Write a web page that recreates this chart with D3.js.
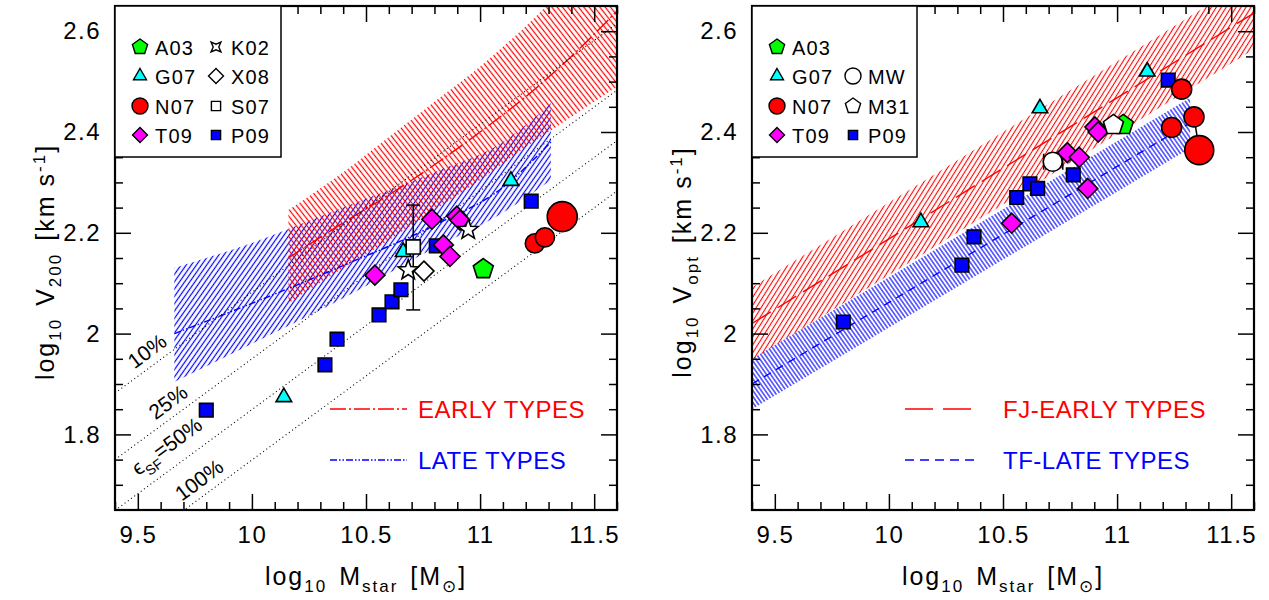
<!DOCTYPE html>
<html>
<head>
<meta charset="utf-8">
<script src="https://cdn.jsdelivr.net/npm/d3@7"></script>
<style>
  body { margin: 0; background: #fff; }
  text { font-family: "Liberation Sans", Arial, sans-serif; fill: #000; }
</style>
</head>
<body>
<div id="chart"></div>
<script>
var W = 1269, H = 600;

// axes
var xDomain = [9.4, 11.6];
var yDomain = [1.65, 2.65];
var xTicks = [9.5, 10, 10.5, 11, 11.5];
var xTickLabels = ["9.5", "10", "10.5", "11", "11.5"];
var yTicks = [1.8, 2, 2.2, 2.4, 2.6];
var yTickLabels = ["1.8", "2", "2.2", "2.4", "2.6"];

// left panel: log V200 vs log Mstar
var v200A03 = [[11.014, 2.128]];
var v200G07 = [[10.14, 1.874], [10.663, 2.162], [11.135, 2.303]];
var v200N07 = [[11.24, 2.179], [11.284, 2.191]];
var v200N07big = [[11.36, 2.232]];
var v200T09 = [[10.539, 2.116], [10.789, 2.227], [10.839, 2.176], [10.868, 2.153], [10.898, 2.233], [10.912, 2.225]];
var v200K02 = [[10.685, 2.126], [10.948, 2.206]];
var v200X08 = [[10.754, 2.124]];
var v200S07 = [[10.707, 2.172]];
var v200S07err = [[10.707, 2.047, 2.255]];
var v200P09 = [[9.80, 1.848], [10.32, 1.938], [10.373, 1.989], [10.557, 2.037], [10.614, 2.063],
               [10.653, 2.087], [10.808, 2.174], [11.224, 2.263]];

// left panel bands: x, lower, middle, upper
var earlyX   = [10.16, 10.4, 10.6, 10.8, 11.0, 11.2, 11.4, 11.6];
var earlyLo  = [2.06, 2.13, 2.185, 2.245, 2.305, 2.37, 2.43, 2.49];
var earlyMid = [2.15, 2.22, 2.275, 2.335, 2.40, 2.47, 2.55, 2.64];
var earlyHi  = [2.245, 2.32, 2.39, 2.46, 2.53, 2.61, 2.70, 2.79];
var lateX    = [9.66, 10.0, 10.4, 10.8, 11.1, 11.31];
var lateLo   = [1.904, 1.98, 2.07, 2.17, 2.24, 2.305];
var lateMid  = [2.00, 2.06, 2.135, 2.215, 2.29, 2.38];
var lateHi   = [2.13, 2.18, 2.25, 2.32, 2.38, 2.457];

// star formation efficiency lines (dotted), end points at x = 9.4 and 11.6
var effX = [9.4, 11.6];
var eff10 = [1.882, 2.615];
var eff25 = [1.750, 2.483];
var eff50 = [1.649, 2.383];
var eff100 = [1.549, 2.283];

// right panel: log Vopt vs log Mstar
var voptA03 = [[11.027, 2.414]];
var voptG07 = [[10.14, 2.221], [10.662, 2.447], [11.132, 2.520]];
var voptN07 = [[11.239, 2.409], [11.283, 2.485], [11.337, 2.43]];
var voptN07big = [[11.36, 2.364]];
var voptN07link = [[11.337, 2.43], [11.36, 2.364]];
var voptT09 = [[10.538, 2.219], [10.782, 2.359], [10.834, 2.350], [10.871, 2.288], [10.903, 2.410], [10.917, 2.400]];
var voptMW = [[10.718, 2.341]];
var voptMWerr = [[10.678, 10.762, 2.341]];
var voptM31 = [[10.984, 2.414]];
var voptP09 = [[9.80, 2.023], [10.32, 2.136], [10.373, 2.192], [10.56, 2.270], [10.618, 2.297],
               [10.652, 2.288], [10.808, 2.315], [11.224, 2.503]];

// right panel relations
var fjX   = [9.4, 11.6];
var fjLo  = [1.948, 2.564];
var fjMid = [2.02, 2.636];
var fjHi  = [2.092, 2.708];
var tfX   = [9.4, 11.32];
var tfLo  = [1.85, 2.368];
var tfMid = [1.90, 2.418];
var tfHi  = [1.95, 2.468];

var RED = "#ff0000", BLUE = "#0000ff", GREEN = "#00ff00", CYAN = "#00ffff", MAGENTA = "#ff00ff";

var svg = d3.select("#chart").append("svg").attr("width", W).attr("height", H);
var defs = svg.append("defs");

function hatch(id, color, angle, spacing, sw) {
  var p = defs.append("pattern")
    .attr("id", id)
    .attr("patternUnits", "userSpaceOnUse")
    .attr("width", spacing).attr("height", spacing)
    .attr("patternTransform", "rotate(" + angle + ")");
  p.append("line")
    .attr("x1", spacing / 2).attr("x2", spacing / 2)
    .attr("y1", -1).attr("y2", spacing + 1)
    .attr("stroke", color).attr("stroke-width", sw);
}
hatch("hRedL", RED, -38, 4.2, 1.2);
hatch("hBlueL", BLUE, 35, 4.2, 1.2);
hatch("hRedR", RED, 32, 4.2, 1.1);
hatch("hBlueR", BLUE, -35, 3.4, 1.1);

// symbols, size = radius
function regularPoly(n, rot) {
  return { draw: function(ctx, r) {
    for (var i = 0; i < n; i++) {
      var a = rot + i * 2 * Math.PI / n;
      var px = r * Math.sin(a), py = -r * Math.cos(a);
      if (i === 0) ctx.moveTo(px, py); else ctx.lineTo(px, py);
    }
    ctx.closePath();
  }};
}
function starType(n, ratio, rot) {
  return { draw: function(ctx, r) {
    for (var i = 0; i < 2 * n; i++) {
      var a = rot + i * Math.PI / n;
      var rr = (i % 2 === 0) ? r : r * ratio;
      var px = rr * Math.sin(a), py = -rr * Math.cos(a);
      if (i === 0) ctx.moveTo(px, py); else ctx.lineTo(px, py);
    }
    ctx.closePath();
  }};
}
var pentagon = regularPoly(5, 0);
var triangle = regularPoly(3, 0);
var diamond = regularPoly(4, 0);
var square = regularPoly(4, Math.PI / 4);
var star5 = starType(5, 0.42, 0);
var star4 = starType(4, 0.4, Math.PI / 4);
var circle = { draw: function(ctx, r) { ctx.moveTo(r, 0); ctx.arc(0, 0, r, 0, 2 * Math.PI); } };

function makePanel(ox) {
  var p = {};
  p.x = d3.scaleLinear().domain(xDomain).range([ox, ox + 502]);
  p.y = d3.scaleLinear().domain(yDomain).range([510, 6]);
  p.g = svg.append("g");
  var cid = "clip" + ox;
  defs.append("clipPath").attr("id", cid).append("rect")
    .attr("x", ox).attr("y", 6).attr("width", 502).attr("height", 504);
  p.plot = p.g.append("g").attr("clip-path", "url(#" + cid + ")");
  p.ox = ox;
  return p;
}

function drawAxes(p) {
  var g = p.g.append("g");
  var minorX = d3.range(94, 117).map(function(v) { return v / 10; })
    .filter(function(v) { return xTicks.indexOf(v) < 0; });
  var minorY = d3.range(33, 54).map(function(v) { return v / 20; })
    .filter(function(v) { return yTicks.indexOf(v) < 0 && v > 1.65 && v < 2.65; });
  var fmtX = function(d, i) { return xTickLabels[i]; };
  var fmtY = function(d, i) { return yTickLabels[i]; };

  var bottom = g.append("g").attr("transform", "translate(0,510)");
  bottom.append("g").call(d3.axisBottom(p.x).tickValues(xTicks).tickSize(-16).tickSizeOuter(0).tickPadding(16).tickFormat(fmtX));
  bottom.append("g").call(d3.axisBottom(p.x).tickValues(minorX).tickSize(-8).tickSizeOuter(0).tickFormat(""));
  var top = g.append("g").attr("transform", "translate(0,6)");
  top.append("g").call(d3.axisTop(p.x).tickValues(xTicks).tickSize(-16).tickSizeOuter(0).tickFormat(""));
  top.append("g").call(d3.axisTop(p.x).tickValues(minorX).tickSize(-8).tickSizeOuter(0).tickFormat(""));
  var left = g.append("g").attr("transform", "translate(" + p.ox + ",0)");
  left.append("g").call(d3.axisLeft(p.y).tickValues(yTicks).tickSize(-16).tickSizeOuter(0).tickPadding(14).tickFormat(fmtY));
  left.append("g").call(d3.axisLeft(p.y).tickValues(minorY).tickSize(-8).tickSizeOuter(0).tickFormat(""));
  var right = g.append("g").attr("transform", "translate(" + (p.ox + 502) + ",0)");
  right.append("g").call(d3.axisRight(p.y).tickValues(yTicks).tickSize(-16).tickSizeOuter(0).tickFormat(""));
  right.append("g").call(d3.axisRight(p.y).tickValues(minorY).tickSize(-8).tickSizeOuter(0).tickFormat(""));

  g.selectAll(".domain").remove();
  g.selectAll(".tick line").attr("stroke", "#000").attr("stroke-width", 1.5);
  g.selectAll(".tick text").style("font-size", "24px").style("letter-spacing", "1.5px").attr("fill", "#000");

  g.append("rect").attr("x", p.ox).attr("y", 6).attr("width", 502).attr("height", 504)
    .attr("fill", "none").attr("stroke", "#000").attr("stroke-width", 2.2);
}

function drawBand(p, xs, lo, hi, fillId, curve) {
  var area = d3.area()
    .x(function(d) { return p.x(d[0]); })
    .y0(function(d) { return p.y(d[1]); })
    .y1(function(d) { return p.y(d[2]); })
    .curve(curve);
  p.plot.append("path").datum(d3.zip(xs, lo, hi))
    .attr("d", area).attr("fill", "url(#" + fillId + ")").attr("stroke", "none");
}

function drawLine(p, xs, ys, color, dash, sw, curve) {
  var line = d3.line()
    .x(function(d) { return p.x(d[0]); })
    .y(function(d) { return p.y(d[1]); })
    .curve(curve || d3.curveLinear);
  p.plot.append("path").datum(d3.zip(xs, ys))
    .attr("d", line).attr("fill", "none").attr("stroke", color)
    .attr("stroke-width", sw).attr("stroke-dasharray", dash);
}

function drawPoints(p, data, type, r, fill) {
  p.g.append("g").selectAll("path").data(data).enter().append("path")
    .attr("transform", function(d) { return "translate(" + p.x(d[0]) + "," + p.y(d[1]) + ")"; })
    .attr("d", d3.symbol().type(type).size(r))
    .attr("fill", fill).attr("stroke", "#000").attr("stroke-width", 1.6)
    .attr("stroke-linejoin", "miter");
}

// parts: [text, "n" | "sub" | "sup", extra gap before]
function richText(sel, parts, size) {
  var shift = 0;
  parts.forEach(function(pt) {
    var target = pt[1] === "sub" ? 7 : (pt[1] === "sup" ? -9 : 0);
    sel.append("tspan")
      .attr("dy", target - shift)
      .attr("dx", pt[2] || 0)
      .style("font-size", (pt[1] === "n" ? size : Math.round(size * 0.68)) + "px")
      .text(pt[0]);
    shift = target;
  });
}

function legendItem(g, sx, tx, cy, type, r, fill, label) {
  g.append("path")
    .attr("transform", "translate(" + sx + "," + cy + ")")
    .attr("d", d3.symbol().type(type).size(r))
    .attr("fill", fill).attr("stroke", "#000").attr("stroke-width", 1.4);
  g.append("text").attr("x", tx).attr("y", cy + 7.5).style("font-size", "20px")
    .style("letter-spacing", "1.2px").text(label);
}

var rows = [47, 76, 106, 135];
var titleSize = 25;

// ---------- left panel ----------
var L = makePanel(115);
drawBand(L, lateX, lateLo, lateHi, "hBlueL", d3.curveMonotoneX);
drawBand(L, earlyX, earlyLo, earlyHi, "hRedL", d3.curveMonotoneX);
drawLine(L, earlyX, earlyMid, RED, "16,3,2,3", 1.4, d3.curveMonotoneX);
drawLine(L, lateX, lateMid, BLUE, "7,2,1.5,2,1.5,2", 1.4, d3.curveMonotoneX);
[eff10, eff25, eff50, eff100].forEach(function(e) {
  drawLine(L, effX, e, "#000", "1,3", 1.1);
});

var effAngle = -Math.atan((1 / 3) * 504 / 228.2) * 180 / Math.PI;
var effText = [["10%", 147, 351], ["25%", 168, 402], [null, 171, 452], ["100%", 199, 480]];
effText.forEach(function(t) {
  var tx = L.g.append("text")
    .attr("transform", "translate(" + t[1] + "," + t[2] + ") rotate(" + effAngle + ")")
    .attr("text-anchor", "middle").attr("dy", "0.35em").style("font-size", "21px");
  if (t[0]) tx.text(t[0]);
  else richText(tx, [["\u03f5", "n"], ["SF", "sub"], ["=50%", "n"]], 21);
});

// error bar for S07
var eb = L.g.append("g").attr("stroke", "#000").attr("stroke-width", 1.5);
v200S07err.forEach(function(d) {
  var xx = L.x(d[0]);
  eb.append("line").attr("x1", xx).attr("x2", xx).attr("y1", L.y(d[1])).attr("y2", L.y(d[2]));
  eb.append("line").attr("x1", xx - 7).attr("x2", xx + 7).attr("y1", L.y(d[1])).attr("y2", L.y(d[1]));
  eb.append("line").attr("x1", xx - 7).attr("x2", xx + 7).attr("y1", L.y(d[2])).attr("y2", L.y(d[2]));
});

drawPoints(L, v200G07, triangle, 9, CYAN);
drawPoints(L, v200A03, pentagon, 10.5, GREEN);
drawPoints(L, v200P09, square, 9.6, BLUE);
drawPoints(L, v200T09, diamond, 10, MAGENTA);
drawPoints(L, v200X08, diamond, 10, "#fff");
drawPoints(L, v200K02, star5, 10.5, "#fff");
drawPoints(L, v200S07, square, 10, "#fff");
drawPoints(L, v200N07, circle, 9.6, RED);
drawPoints(L, v200N07big, circle, 15, RED);

drawAxes(L);

// legend box
var lgL = L.g.append("g");
lgL.append("rect").attr("x", 115).attr("y", 6).attr("width", 166).attr("height", 151)
  .attr("fill", "#fff").attr("stroke", "#000").attr("stroke-width", 1.5);
legendItem(lgL, 140, 155, rows[0], pentagon, 8, GREEN, "A03");
legendItem(lgL, 140, 155, rows[1], triangle, 7.5, CYAN, "G07");
legendItem(lgL, 140, 155, rows[2], circle, 8, RED, "N07");
legendItem(lgL, 140, 155, rows[3], diamond, 7.5, MAGENTA, "T09");
legendItem(lgL, 216, 231, rows[0], star4, 7, "#fff", "K02");
legendItem(lgL, 216, 231, rows[1], diamond, 7.5, "#fff", "X08");
legendItem(lgL, 216, 231, rows[2], square, 6.5, "#fff", "S07");
legendItem(lgL, 216, 231, rows[3], square, 6.5, BLUE, "P09");

// line legend
L.g.append("line").attr("x1", 330).attr("x2", 407).attr("y1", 409).attr("y2", 409)
  .attr("stroke", RED).attr("stroke-width", 1.4).attr("stroke-dasharray", "16,3,2,3");
L.g.append("text").attr("x", 418).attr("y", 418).style("font-size", "24px").style("fill", RED)
  .style("letter-spacing", "0.5px").text("EARLY TYPES");
L.g.append("line").attr("x1", 330).attr("x2", 407).attr("y1", 460).attr("y2", 460)
  .attr("stroke", BLUE).attr("stroke-width", 1.4).attr("stroke-dasharray", "7,2,1.5,2,1.5,2");
L.g.append("text").attr("x", 418).attr("y", 469).style("font-size", "24px").style("fill", BLUE)
  .style("letter-spacing", "0.5px").text("LATE TYPES");

// axis titles
function yTitle(cx, sub) {
  var t = svg.append("text").attr("transform", "translate(" + cx + ",262) rotate(-90)")
    .attr("text-anchor", "middle").style("font-size", titleSize + "px").style("letter-spacing", "2px");
  richText(t, [["log", "n"], ["10", "sub"], ["V", "n", 12], [sub, "sub"], ["[km", "n", 12], ["s", "n", 8], ["-1", "sup"], ["]", "n"]], titleSize);
}
function xTitle(cx) {
  var t = svg.append("text").attr("x", cx).attr("y", 585)
    .attr("text-anchor", "middle").style("font-size", titleSize + "px").style("letter-spacing", "2px");
  richText(t, [["log", "n"], ["10", "sub"], ["M", "n", 12], ["star", "sub"], ["[M", "n", 12], ["\u2299", "sub"], ["]", "n"]], titleSize);
}
yTitle(54, "200");
xTitle(366);

// ---------- right panel ----------
var R = makePanel(752);
drawBand(R, fjX, fjLo, fjHi, "hRedR", d3.curveLinear);
drawBand(R, tfX, tfLo, tfHi, "hBlueR", d3.curveLinear);
drawLine(R, fjX, fjMid, RED, "22,8", 1.4);
drawLine(R, tfX, tfMid, BLUE, "8,6", 1.4);

// MW error bar and N07 link
var ebR = R.g.append("g").attr("stroke", "#000").attr("stroke-width", 1.5);
voptMWerr.forEach(function(d) {
  var yy = R.y(d[2]);
  ebR.append("line").attr("x1", R.x(d[0])).attr("x2", R.x(d[1])).attr("y1", yy).attr("y2", yy);
  ebR.append("line").attr("x1", R.x(d[0])).attr("x2", R.x(d[0])).attr("y1", yy - 8).attr("y2", yy + 8);
  ebR.append("line").attr("x1", R.x(d[1])).attr("x2", R.x(d[1])).attr("y1", yy - 8).attr("y2", yy + 8);
});
R.g.append("path").datum(voptN07link)
  .attr("d", d3.line().x(function(d) { return R.x(d[0]); }).y(function(d) { return R.y(d[1]); }))
  .attr("stroke", "#000").attr("stroke-width", 1.5).attr("fill", "none");

drawPoints(R, voptG07, triangle, 9, CYAN);
drawPoints(R, voptA03, pentagon, 10.5, GREEN);
drawPoints(R, voptMW, circle, 9.5, "#fff");
drawPoints(R, voptT09, diamond, 10, MAGENTA);
drawPoints(R, voptM31, pentagon, 10.5, "#fff");
drawPoints(R, voptP09, square, 9.6, BLUE);
drawPoints(R, voptN07, circle, 10, RED);
drawPoints(R, voptN07big, circle, 14.5, RED);

drawAxes(R);

var lgR = R.g.append("g");
lgR.append("rect").attr("x", 752).attr("y", 6).attr("width", 165).attr("height", 151)
  .attr("fill", "#fff").attr("stroke", "#000").attr("stroke-width", 1.5);
legendItem(lgR, 777, 792, rows[0], pentagon, 8, GREEN, "A03");
legendItem(lgR, 777, 792, rows[1], triangle, 7.5, CYAN, "G07");
legendItem(lgR, 777, 792, rows[2], circle, 8, RED, "N07");
legendItem(lgR, 777, 792, rows[3], diamond, 7.5, MAGENTA, "T09");
legendItem(lgR, 853, 868, rows[1], circle, 8, "#fff", "MW");
legendItem(lgR, 853, 868, rows[2], pentagon, 8, "#fff", "M31");
legendItem(lgR, 853, 868, rows[3], square, 6.5, BLUE, "P09");

R.g.append("line").attr("x1", 905).attr("x2", 977).attr("y1", 409).attr("y2", 409)
  .attr("stroke", RED).attr("stroke-width", 1.4).attr("stroke-dasharray", "28,10");
R.g.append("text").attr("x", 1003).attr("y", 418).style("font-size", "24px").style("fill", RED)
  .style("letter-spacing", "0.5px").text("FJ-EARLY TYPES");
R.g.append("line").attr("x1", 905).attr("x2", 977).attr("y1", 460).attr("y2", 460)
  .attr("stroke", BLUE).attr("stroke-width", 1.4).attr("stroke-dasharray", "9,6");
R.g.append("text").attr("x", 1003).attr("y", 469).style("font-size", "24px").style("fill", BLUE)
  .style("letter-spacing", "0.5px").text("TF-LATE TYPES");

yTitle(691, "opt");
xTitle(1003);
</script>
</body>
</html>
